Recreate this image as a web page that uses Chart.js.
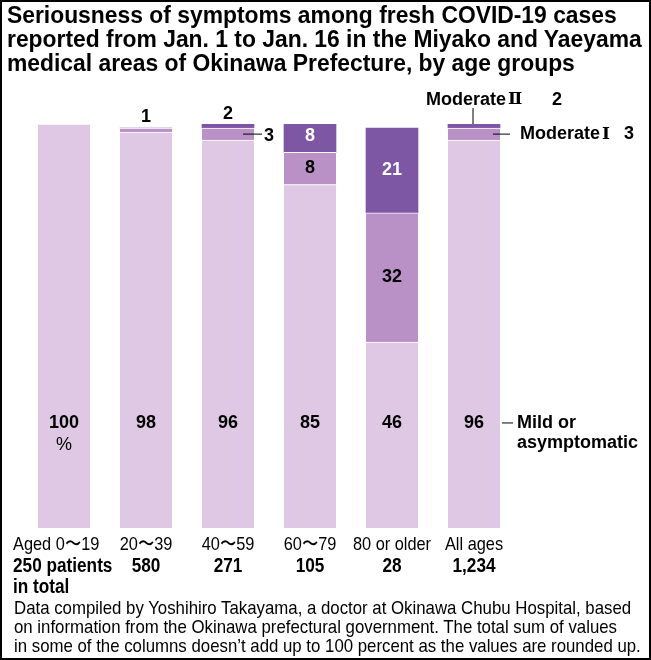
<!DOCTYPE html>
<html>
<head>
<meta charset="utf-8">
<script src="https://cdn.jsdelivr.net/npm/chart.js@4"></script>
<style>
  body { margin: 0; background: #fff; }
  #wrap { position: relative; width: 651px; height: 660px; box-sizing: border-box; border: 2px solid #000; overflow: hidden; }
  #chart { position: absolute; left: -2px; top: -2px; }
  #title { position: absolute; left: 5px; top: 1px; font: bold 23px "Liberation Sans", Arial, sans-serif; line-height: 24px; color: #000; white-space: nowrap; transform-origin: 0 0; }
  #note { position: absolute; left: 12px; top: 596px; font: 19px "Liberation Sans", Arial, sans-serif; line-height: 19px; color: #000; white-space: nowrap; transform-origin: 0 0; }
</style>
</head>
<body>
<div id="wrap">
  <canvas id="chart" width="651" height="660"></canvas>
  <div id="title">Seriousness of symptoms among fresh COVID-19 cases<br>reported from Jan. 1 to Jan. 16 in the Miyako and Yaeyama<br>medical areas of Okinawa Prefecture, by age groups</div>
  <div id="note">Data compiled by Yoshihiro Takayama, a doctor at Okinawa Chubu Hospital, based<br>on information from the Okinawa prefectural government. The total sum of values<br>in some of the columns doesn’t add up to 100 percent as the values are rounded up.</div>
</div>
<script>
// data
const categories = ["Aged 0〜19", "20〜39", "40〜59", "60〜79", "80 or older", "All ages"];
const patients = ["250", "580", "271", "105", "28", "1,234"];
const mild = [100, 98, 96, 85, 46, 96];
const moderate1 = [0, 1, 3, 8, 32, 3];
const moderate2 = [0, 0, 2, 8, 21, 2];

const colMild = "#dfc8e3";
const colMod1 = "#ba91c6";
const colMod2 = "#7d56a4";

const SANS = '"Liberation Sans", Arial, sans-serif';
const ROMAN = '"DejaVu Serif", "Liberation Serif", serif';

// squeeze text blocks to the width of the original
function fit(id, w) {
  const el = document.getElementById(id);
  el.style.transform = "scaleX(" + (w / el.scrollWidth) + ")";
}
fit("title", 635);
fit("note", 627);

function leader(ctx, x1, y1, x2, y2) {
  ctx.beginPath();
  ctx.moveTo(x1, y1);
  ctx.lineTo(x2, y2);
  ctx.stroke();
}

// narrow text: a regular font squeezed sideways
function narrow(ctx, text, x, y, font, sx, align) {
  ctx.save();
  ctx.font = font;
  ctx.textAlign = align;
  ctx.translate(x, y);
  ctx.scale(sx, 1);
  ctx.fillText(text, 0, 0);
  ctx.restore();
}

// "Moderate" + roman numeral
function moderate(ctx, num, x, y) {
  ctx.textAlign = "left";
  ctx.font = "bold 18px " + SANS;
  ctx.fillText("Moderate", x, y);
  const w = ctx.measureText("Moderate").width;
  ctx.font = "bold 17px " + ROMAN;
  ctx.fillText(num, x + w + 2, y);
  ctx.font = "bold 18px " + SANS;
}

const labels = {
  id: "labels",
  afterDatasetsDraw(chart) {
    const ctx = chart.ctx;
    const x = chart.scales.x, y = chart.scales.y;
    const top = y.getPixelForValue(100);
    ctx.save();
    ctx.textAlign = "center";
    ctx.textBaseline = "middle";
    ctx.lineWidth = 1;
    ctx.strokeStyle = "#000";

    categories.forEach((c, i) => {
      const cx = x.getPixelForValue(i);
      // mild
      ctx.fillStyle = "#000";
      ctx.font = "bold 18px " + SANS;
      ctx.fillText(mild[i], cx, y.getPixelForValue(26));
      if (i === 0) {
        ctx.font = "18px " + SANS;
        ctx.fillText("%", cx, y.getPixelForValue(20.5));
      }
      ctx.font = "bold 18px " + SANS;
      const m1Mid = y.getPixelForValue(mild[i] + moderate1[i] / 2);
      const m2Mid = y.getPixelForValue(mild[i] + moderate1[i] + moderate2[i] / 2);
      if (moderate1[i] >= 8) {
        ctx.fillStyle = "#000";
        ctx.fillText(moderate1[i], cx, m1Mid);
      }
      if (moderate2[i] >= 8) {
        ctx.fillStyle = "#fff";
        ctx.fillText(moderate2[i], cx, m2Mid);
      }
      ctx.fillStyle = "#000";
      if (i === 1) {
        ctx.fillText(moderate1[i], cx, top - 7);
      }
      if (i === 2) {
        ctx.fillText(moderate2[i], cx, top - 10);
        leader(ctx, cx + 15, m1Mid, cx + 34, m1Mid);
        ctx.fillText(moderate1[i], cx + 41, m1Mid + 2);
      }
      if (i === 5) {
        // legend labels
        leader(ctx, cx - 1, top - 16, cx - 1, top);
        moderate(ctx, "\u2161", cx - 48, top - 24);
        ctx.fillText(moderate2[i], cx + 78, top - 24);
        leader(ctx, cx + 19, m1Mid, cx + 36, m1Mid);
        moderate(ctx, "\u2160", cx + 46, m1Mid);
        ctx.fillText(moderate1[i], cx + 150, m1Mid);
        const my = y.getPixelForValue(26);
        leader(ctx, cx + 28, my, cx + 39, my);
        ctx.fillText("Mild or", cx + 43, my);
        ctx.fillText("asymptomatic", cx + 43, my + 20);
        ctx.textAlign = "center";
      }
      // category labels
      ctx.fillStyle = "#000";
      if (i === 0) {
        narrow(ctx, c, 13, 545, "19px " + SANS, 0.86, "left");
        narrow(ctx, patients[i] + " patients", 13, 566, "bold 20px " + SANS, 0.86, "left");
        narrow(ctx, "in total", 13, 587, "bold 20px " + SANS, 0.86, "left");
      } else {
        narrow(ctx, c, cx, 545, "19px " + SANS, 0.86, "center");
        narrow(ctx, patients[i], cx, 566, "bold 20px " + SANS, 0.86, "center");
      }
    });
    ctx.restore();
  }
};

const sep = { top: 1, left: 0, right: 0, bottom: 0 };

new Chart(document.getElementById("chart"), {
  type: "bar",
  data: {
    labels: categories,
    datasets: [
      { label: "Mild or asymptomatic", data: mild, backgroundColor: colMild, borderColor: "#fff", borderWidth: sep, borderSkipped: false },
      { label: "Moderate I", data: moderate1, backgroundColor: colMod1, borderColor: "#fff", borderWidth: sep, borderSkipped: false },
      { label: "Moderate II", data: moderate2, backgroundColor: colMod2, borderWidth: 0 }
    ]
  },
  options: {
    responsive: false,
    animation: false,
    layout: { padding: { left: 23, right: 136, top: 124, bottom: 132 } },
    barThickness: 52,
    plugins: { legend: { display: false }, tooltip: { enabled: false } },
    scales: {
      x: { stacked: true, display: false },
      y: { stacked: true, display: false, min: 0, max: 100 }
    }
  },
  plugins: [labels]
});
</script>
</body>
</html>
